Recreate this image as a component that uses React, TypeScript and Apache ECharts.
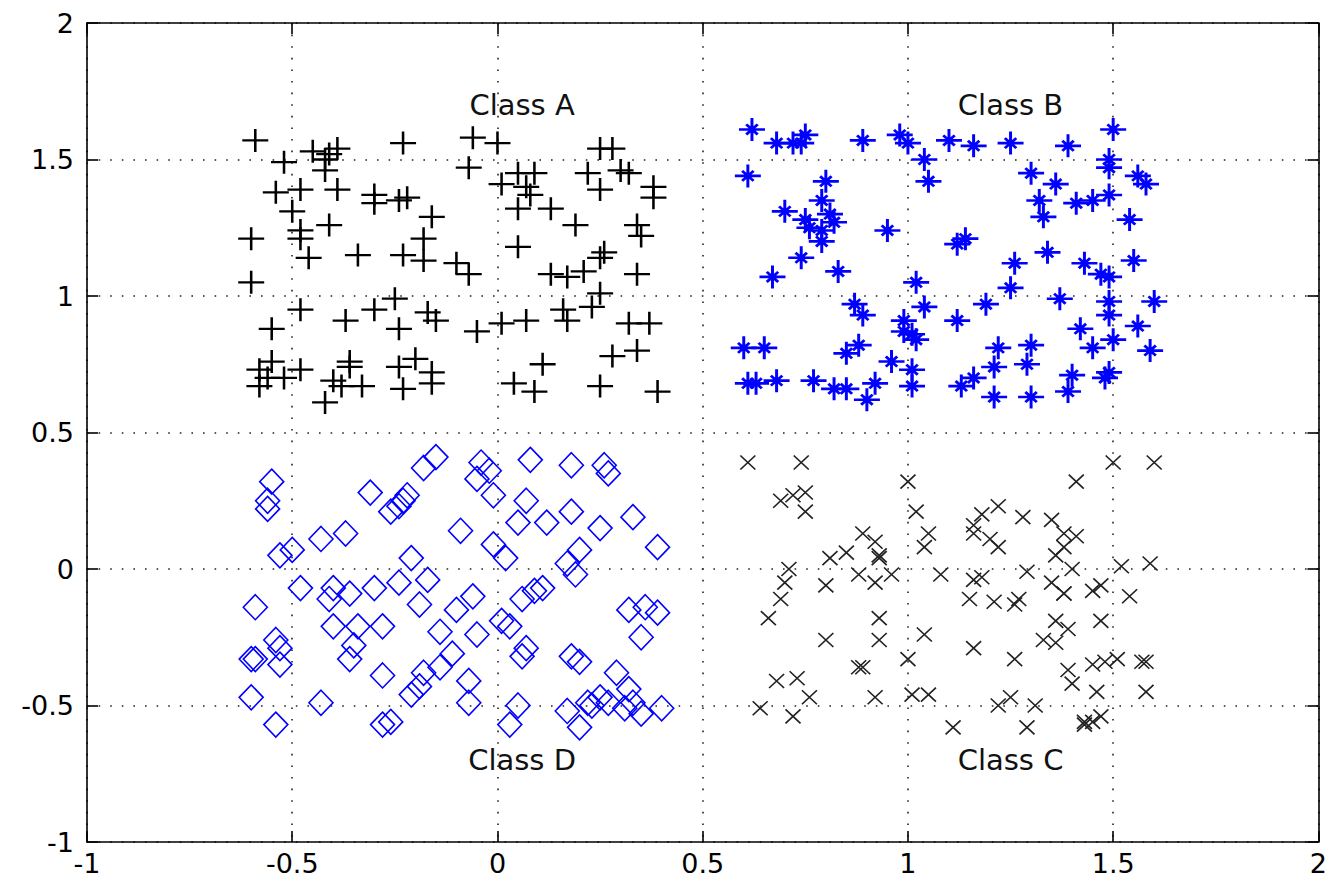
import React, { useEffect, useRef } from "react";
import * as echarts from "echarts";

const classA: number[][] = [
  [-0.59,1.57],[-0.23,1.56],[-0.45,1.53],[-0.52,1.49],[-0.39,1.54],[-0.41,1.52],[-0.42,1.50],[-0.42,1.46],[-0.54,1.38],[-0.48,1.39],
  [-0.39,1.39],[-0.30,1.37],[-0.30,1.34],[-0.24,1.35],[-0.22,1.36],[-0.16,1.29],[-0.50,1.31],[-0.60,1.21],[-0.41,1.26],[-0.48,1.24],
  [-0.48,1.21],[-0.18,1.21],[-0.46,1.14],[-0.34,1.15],[-0.23,1.15],[-0.18,1.13],[-0.10,1.12],[-0.60,1.05],[-0.25,0.99],[-0.48,0.95],
  [-0.30,0.95],[-0.17,0.94],[-0.15,0.91],[-0.55,0.88],[-0.37,0.91],[-0.24,0.88],[-0.55,0.76],[-0.58,0.73],[-0.56,0.70],[-0.52,0.70],
  [-0.58,0.67],[-0.48,0.73],[-0.36,0.76],[-0.36,0.74],[-0.40,0.69],[-0.38,0.67],[-0.33,0.67],[-0.42,0.61],[-0.24,0.74],[-0.20,0.77],
  [-0.16,0.72],[-0.16,0.68],[-0.23,0.66],
  [-0.06,1.58],[0.00,1.56],[0.25,1.54],[0.28,1.54],[-0.07,1.47],[0.05,1.45],[0.09,1.45],[0.01,1.41],[0.07,1.40],[0.08,1.37],
  [0.22,1.45],[0.30,1.46],[0.32,1.45],[0.25,1.39],[0.38,1.40],[0.38,1.36],[0.05,1.32],[0.13,1.32],[0.19,1.26],[0.34,1.26],
  [0.35,1.22],[0.05,1.18],[0.26,1.16],[0.25,1.14],[-0.07,1.08],[0.13,1.08],[0.17,1.07],[0.21,1.09],[0.34,1.08],[0.25,1.01],
  [0.23,0.96],[0.16,0.95],[0.17,0.91],[0.01,0.90],[0.07,0.91],[-0.05,0.87],[0.32,0.90],[0.37,0.90],[0.34,0.80],[0.28,0.78],
  [0.11,0.75],[0.04,0.68],[0.09,0.65],[0.25,0.67],[0.39,0.65]
];

const classB: number[][] = [
  [0.62,1.61],[0.68,1.56],[0.72,1.56],[0.75,1.59],[0.74,1.56],[0.89,1.57],[0.98,1.59],[1.00,1.56],[1.04,1.50],[0.61,1.44],
  [1.05,1.42],[0.80,1.42],[0.79,1.35],[0.70,1.31],[0.81,1.30],[0.75,1.28],[0.82,1.27],[0.76,1.25],[0.79,1.24],[0.79,1.20],
  [0.95,1.24],[0.74,1.14],[0.83,1.09],[0.67,1.07],[1.02,1.05],[0.87,0.97],[0.89,0.93],[1.04,0.96],[0.99,0.91],[0.99,0.87],
  [1.01,0.86],[1.02,0.84],[0.60,0.81],[0.65,0.81],[0.85,0.79],[0.88,0.82],[0.96,0.76],[1.01,0.73],[0.61,0.68],[0.63,0.68],
  [0.68,0.69],[0.77,0.69],[0.82,0.66],[0.85,0.66],[0.92,0.68],[0.90,0.62],[1.01,0.67],
  [1.10,1.57],[1.16,1.55],[1.25,1.56],[1.39,1.55],[1.50,1.61],[1.49,1.50],[1.49,1.47],[1.30,1.45],[1.56,1.44],[1.58,1.41],
  [1.36,1.41],[1.32,1.35],[1.41,1.34],[1.45,1.35],[1.49,1.37],[1.33,1.29],[1.54,1.28],[1.14,1.21],[1.12,1.19],[1.34,1.16],
  [1.26,1.12],[1.43,1.12],[1.55,1.13],[1.47,1.08],[1.49,1.07],[1.25,1.03],[1.19,0.97],[1.37,0.99],[1.49,0.98],[1.60,0.98],
  [1.12,0.91],[1.49,0.93],[1.42,0.88],[1.56,0.89],[1.50,0.84],[1.45,0.81],[1.59,0.80],[1.22,0.81],[1.30,0.82],[1.21,0.74],
  [1.29,0.75],[1.16,0.70],[1.13,0.67],[1.40,0.71],[1.39,0.65],[1.49,0.72],[1.48,0.70],[1.21,0.63],[1.30,0.63]
];

const classC: number[][] = [
  [0.61,0.39],[0.74,0.39],[0.69,0.25],[0.72,0.27],[0.75,0.28],[0.75,0.21],[1.00,0.32],[1.02,0.21],[0.89,0.13],[0.92,0.10],
  [1.05,0.13],[1.04,0.08],[0.81,0.04],[0.85,0.06],[0.93,0.04],[0.93,0.05],[0.71,0.00],[0.70,-0.05],[0.80,-0.06],[0.88,-0.02],
  [0.92,-0.05],[0.96,-0.02],[0.69,-0.11],[0.66,-0.18],[0.93,-0.18],[0.93,-0.26],[0.80,-0.26],[1.04,-0.24],[1.00,-0.33],[0.88,-0.36],
  [0.89,-0.36],[0.68,-0.41],[0.73,-0.40],[0.76,-0.47],[0.92,-0.47],[0.64,-0.51],[0.72,-0.54],[1.01,-0.46],[1.05,-0.46],
  [1.50,0.39],[1.60,0.39],[1.41,0.32],[1.18,0.20],[1.22,0.23],[1.28,0.19],[1.35,0.18],[1.16,0.16],[1.16,0.13],[1.20,0.11],
  [1.22,0.08],[1.38,0.13],[1.41,0.12],[1.38,0.08],[1.36,0.05],[1.40,0.00],[1.08,-0.02],[1.16,-0.04],[1.18,-0.03],[1.29,-0.01],
  [1.52,0.01],[1.59,0.02],[1.35,-0.05],[1.38,-0.09],[1.38,-0.09],[1.45,-0.08],[1.47,-0.06],[1.54,-0.10],[1.15,-0.11],[1.21,-0.12],
  [1.27,-0.11],[1.26,-0.13],[1.36,-0.19],[1.39,-0.22],[1.47,-0.19],[1.33,-0.26],[1.36,-0.27],[1.16,-0.29],[1.26,-0.33],[1.39,-0.37],
  [1.45,-0.35],[1.48,-0.34],[1.51,-0.33],[1.57,-0.34],[1.58,-0.34],[1.40,-0.42],[1.46,-0.45],[1.58,-0.45],[1.25,-0.47],[1.22,-0.50],
  [1.31,-0.50],[1.11,-0.58],[1.29,-0.58],[1.43,-0.57],[1.43,-0.56],[1.47,-0.54],[1.45,-0.56]
];

const classD: number[][] = [
  [-0.55,0.32],[-0.56,0.25],[-0.56,0.22],[-0.31,0.28],[-0.18,0.37],[-0.15,0.41],[-0.26,0.21],[-0.24,0.23],[-0.22,0.27],[-0.23,0.25],
  [-0.37,0.13],[-0.43,0.11],[-0.50,0.07],[-0.53,0.05],[-0.21,0.04],[-0.48,-0.07],[-0.40,-0.07],[-0.36,-0.09],[-0.30,-0.07],[-0.24,-0.05],
  [-0.17,-0.04],[-0.19,-0.13],[-0.59,-0.14],[-0.41,-0.11],[-0.40,-0.21],[-0.34,-0.21],[-0.28,-0.21],[-0.14,-0.23],[-0.54,-0.26],[-0.53,-0.29],
  [-0.35,-0.28],[-0.36,-0.33],[-0.60,-0.33],[-0.59,-0.33],[-0.53,-0.35],[-0.28,-0.39],[-0.18,-0.38],[-0.14,-0.36],[-0.21,-0.46],[-0.19,-0.43],
  [-0.60,-0.47],[-0.43,-0.49],[-0.54,-0.57],[-0.28,-0.57],[-0.26,-0.56],
  [-0.04,0.39],[-0.05,0.33],[-0.02,0.36],[0.08,0.40],[0.18,0.38],[0.26,0.38],[0.27,0.35],[-0.01,0.27],[0.07,0.25],[0.05,0.17],
  [0.12,0.17],[0.18,0.21],[0.25,0.15],[0.33,0.19],[0.39,0.08],[-0.09,0.14],[-0.01,0.09],[0.02,0.04],[0.20,0.07],[0.17,0.02],
  [0.19,-0.02],[-0.06,-0.10],[-0.10,-0.15],[0.06,-0.11],[0.09,-0.08],[0.11,-0.07],[0.01,-0.19],[0.03,-0.21],[-0.05,-0.24],[0.32,-0.15],
  [0.36,-0.14],[0.39,-0.16],[0.35,-0.25],[-0.11,-0.31],[0.06,-0.32],[0.07,-0.29],[0.18,-0.32],[0.20,-0.34],[-0.07,-0.41],[0.29,-0.38],
  [-0.07,-0.49],[0.05,-0.50],[0.03,-0.57],[0.17,-0.52],[0.20,-0.58],[0.22,-0.49],[0.25,-0.47],[0.27,-0.49],[0.23,-0.50],[0.32,-0.44],
  [0.33,-0.49],[0.31,-0.51],[0.35,-0.53],[0.40,-0.51]
];

const classNames = ["Class A", "Class B", "Class C", "Class D"];
const classLabelPositions: number[][] = [[0.06, 1.70], [1.25, 1.70], [1.25, -0.70], [0.06, -0.70]];

const axisMin = -1;
const axisMax = 2;
const axisStep = 0.5;

const FONT = "DejaVu Sans";

export default function App() {
  const ref = useRef<HTMLDivElement>(null);
  useEffect(() => {
    if (!ref.current) return;
    const chart = echarts.init(ref.current, undefined, { renderer: "svg" });

    const gridLine = { show: true, lineStyle: { color: "#222", width: 1.6, type: [1.6, 10] as any } };
    const axisLine = { show: true, onZero: false, lineStyle: { color: "#000", width: 1.6 } };
    const axisTick = { show: true, inside: true, length: 11, lineStyle: { color: "#000", width: 1.6 } };
    const baseAxis = { type: "value" as const, min: axisMin, max: axisMax, interval: axisStep };

    chart.setOption({
      animation: false,
      backgroundColor: "#fff",
      grid: { left: 87, right: 9, top: 23, bottom: 37, containLabel: false },
      xAxis: [
        {
          ...baseAxis, position: "bottom", axisLine, axisTick, splitLine: gridLine,
          axisLabel: { fontFamily: FONT, fontSize: 27, color: "#000", margin: 8 }
        },
        {
          ...baseAxis, position: "top", axisLine, axisTick, splitLine: { show: false },
          axisLabel: { show: false }
        }
      ],
      yAxis: [
        {
          ...baseAxis, position: "left", axisLine, axisTick, splitLine: gridLine,
          axisLabel: { fontFamily: FONT, fontSize: 27, color: "#000", margin: 13 }
        },
        {
          ...baseAxis, position: "right", axisLine, axisTick, splitLine: { show: false },
          axisLabel: { show: false }
        }
      ],
      series: [
        {
          name: "Class A", type: "scatter", data: classA,
          symbol: "path://M0,5H10M5,0V10", symbolSize: [26, 23],
          itemStyle: { color: "rgba(0,0,0,0)", borderColor: "#000", borderWidth: 2.4, opacity: 1 }
        },
        {
          name: "Class B", type: "scatter", data: classB,
          symbol: "path://M0,5H10M5,0V10M2.8,2.8L7.2,7.2M2.8,7.2L7.2,2.8", symbolSize: [26, 23],
          itemStyle: { color: "rgba(0,0,0,0)", borderColor: "#0000ff", borderWidth: 2.8, opacity: 1 }
        },
        {
          name: "Class C", type: "scatter", data: classC,
          symbol: "path://M0,0L10,10M0,10L10,0", symbolSize: [15, 14],
          itemStyle: { color: "rgba(0,0,0,0)", borderColor: "#222", borderWidth: 1.6, opacity: 1 }
        },
        {
          name: "Class D", type: "scatter", data: classD,
          symbol: "diamond", symbolSize: [24, 25],
          itemStyle: { color: "rgba(0,0,0,0)", borderColor: "#0000ff", borderWidth: 1.6, opacity: 1 }
        },
        {
          name: "labels", type: "scatter", silent: true,
          symbolSize: 1, itemStyle: { color: "rgba(0,0,0,0)", opacity: 1 },
          data: classNames.map((n, i) => ({ name: n, value: classLabelPositions[i] })),
          label: {
            show: true, position: "inside", formatter: "{b}",
            fontFamily: FONT, fontSize: 29, color: "#111", opacity: 1
          }
        }
      ]
    });
    return () => chart.dispose();
  }, []);
  return (
    <div
      ref={ref}
      style={{ position: "absolute", left: 0, top: 0, width: 1330, height: 879 }}
    />
  );
}
